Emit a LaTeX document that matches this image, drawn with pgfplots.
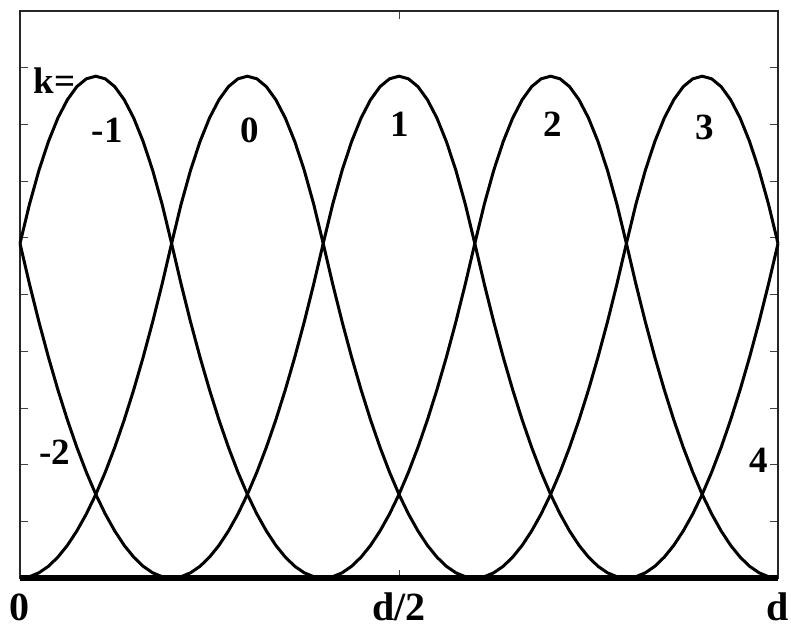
\documentclass[border=0pt]{standalone}
\usepackage{fontspec}
\setmainfont{Liberation Serif}
\usepackage{pgfplots}
\pgfplotsset{compat=1.18}
\usepackage{pgfplotstable}

% quadratic B-spline basis functions, knot spacing d/5, one x column per k
\pgfplotstableread{
xm2     xm1     xa      xb      xc      xd      xe      y
-0.4    -0.2    0       0.2     0.4     0.6     0.8     0
-0.3875 -0.1875 0.0125  0.2125  0.4125  0.6125  0.8125  0.0023
-0.375  -0.175  0.025   0.225   0.425   0.625   0.825   0.0092
-0.3625 -0.1625 0.0375  0.2375  0.4375  0.6375  0.8375  0.0207
-0.35   -0.15   0.05    0.25    0.45    0.65    0.85    0.0369
-0.3375 -0.1375 0.0625  0.2625  0.4625  0.6625  0.8625  0.0576
-0.325  -0.125  0.075   0.275   0.475   0.675   0.875   0.0830
-0.3125 -0.1125 0.0875  0.2875  0.4875  0.6875  0.8875  0.1129
-0.3    -0.1    0.1     0.3     0.5     0.7     0.9     0.1475
-0.2875 -0.0875 0.1125  0.3125  0.5125  0.7125  0.9125  0.1867
-0.275  -0.075  0.125   0.325   0.525   0.725   0.925   0.2305
-0.2625 -0.0625 0.1375  0.3375  0.5375  0.7375  0.9375  0.2789
-0.25   -0.05   0.15    0.35    0.55    0.75    0.95    0.3319
-0.2375 -0.0375 0.1625  0.3625  0.5625  0.7625  0.9625  0.3895
-0.225  -0.025  0.175   0.375   0.575   0.775   0.975   0.4517
-0.2125 -0.0125 0.1875  0.3875  0.5875  0.7875  0.9875  0.5186
-0.2    0       0.2     0.4     0.6     0.8     1.0     0.59
-0.1875 0.0125  0.2125  0.4125  0.6125  0.8125  1.0125  0.6591
-0.175  0.025   0.225   0.425   0.625   0.825   1.025   0.7191
-0.1625 0.0375  0.2375  0.4375  0.6375  0.8375  1.0375  0.7698
-0.15   0.05    0.25    0.45    0.65    0.85    1.05    0.8113
-0.1375 0.0625  0.2625  0.4625  0.6625  0.8625  1.0625  0.8435
-0.125  0.075   0.275   0.475   0.675   0.875   1.075   0.8666
-0.1125 0.0875  0.2875  0.4875  0.6875  0.8875  1.0875  0.8804
-0.1    0.1     0.3     0.5     0.7     0.9     1.1     0.885
-0.0875 0.1125  0.3125  0.5125  0.7125  0.9125  1.1125  0.8804
-0.075  0.125   0.325   0.525   0.725   0.925   1.125   0.8666
-0.0625 0.1375  0.3375  0.5375  0.7375  0.9375  1.1375  0.8435
-0.05   0.15    0.35    0.55    0.75    0.95    1.15    0.8113
-0.0375 0.1625  0.3625  0.5625  0.7625  0.9625  1.1625  0.7698
-0.025  0.175   0.375   0.575   0.775   0.975   1.175   0.7191
-0.0125 0.1875  0.3875  0.5875  0.7875  0.9875  1.1875  0.6591
0       0.2     0.4     0.6     0.8     1.0     1.2     0.59
0.0125  0.2125  0.4125  0.6125  0.8125  1.0125  1.2125  0.5186
0.025   0.225   0.425   0.625   0.825   1.025   1.225   0.4517
0.0375  0.2375  0.4375  0.6375  0.8375  1.0375  1.2375  0.3895
0.05    0.25    0.45    0.65    0.85    1.05    1.25    0.3319
0.0625  0.2625  0.4625  0.6625  0.8625  1.0625  1.2625  0.2789
0.075   0.275   0.475   0.675   0.875   1.075   1.275   0.2305
0.0875  0.2875  0.4875  0.6875  0.8875  1.0875  1.2875  0.1867
0.1     0.3     0.5     0.7     0.9     1.1     1.3     0.1475
0.1125  0.3125  0.5125  0.7125  0.9125  1.1125  1.3125  0.1129
0.125   0.325   0.525   0.725   0.925   1.125   1.325   0.0830
0.1375  0.3375  0.5375  0.7375  0.9375  1.1375  1.3375  0.0576
0.15    0.35    0.55    0.75    0.95    1.15    1.35    0.0369
0.1625  0.3625  0.5625  0.7625  0.9625  1.1625  1.3625  0.0207
0.175   0.375   0.575   0.775   0.975   1.175   1.375   0.0092
0.1875  0.3875  0.5875  0.7875  0.9875  1.1875  1.3875  0.0023
0.2     0.4     0.6     0.8     1.0     1.2     1.4     0
}\basis

\begin{document}
\begin{tikzpicture}
\path[use as bounding box] (-10pt,-25.5pt) rectangle (385.5pt,289pt);
\begin{axis}[
  scale only axis, width=379pt, height=283.5pt,
  xmin=0, xmax=1, ymin=0, ymax=1,
  xtick={0,0.5,1}, xticklabels={0,d/2,d},
  ytick={0.1,0.2,0.3,0.4,0.5,0.6,0.7,0.8,0.9}, yticklabels={},
  tick align=inside, major tick length=4pt,
  tick style={line width=0.4pt, black!75},
  axis line style={line width=0.6pt, black!85},
  xticklabel style={font=\bfseries\fontsize{20}{20}\selectfont, anchor=base, yshift=-21pt},
  clip=false,
  curve/.style={black, solid, line width=1.5pt, no marks, restrict x to domain=0:1},
]
\addplot[curve] table[x=xm2, y=y] {\basis};
\addplot[curve] table[x=xm1, y=y] {\basis};
\addplot[curve] table[x=xa, y=y] {\basis};
\addplot[curve] table[x=xb, y=y] {\basis};
\addplot[curve] table[x=xc, y=y] {\basis};
\addplot[curve] table[x=xd, y=y] {\basis};
\addplot[curve] table[x=xe, y=y] {\basis};
\addplot[black, line width=2.6pt, no marks] coordinates {(0,0) (1,0)};

\begin{scope}[every node/.style={font=\bfseries\fontsize{18.5}{18.5}\selectfont, inner sep=0pt}]
\node at (axis cs:0.0455,0.877) {k=};
\node at (axis cs:0.115,0.79) {-1};
\node at (axis cs:0.303,0.79) {0};
\node at (axis cs:0.501,0.80) {1};
\node at (axis cs:0.703,0.80) {2};
\node at (axis cs:0.904,0.795) {3};
\node at (axis cs:0.046,0.222) {-2};
\node at (axis cs:0.975,0.208) {4};
\end{scope}
\end{axis}
\end{tikzpicture}
\end{document}
